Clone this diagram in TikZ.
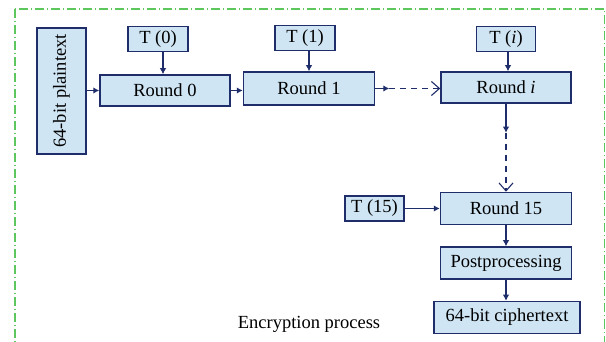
\documentclass[tikz,border=0pt]{standalone}
\usepackage{fontspec}
\setmainfont{Liberation Serif}
\usetikzlibrary{arrows.meta,positioning}
\definecolor{navy}{HTML}{1F2E6B}
\definecolor{boxfill}{HTML}{CFE5F4}
\definecolor{frameg}{HTML}{5DC65D}

\begin{document}
\begin{tikzpicture}[x=1pt,y=-1pt,font=\fontsize{18.5}{22}\selectfont,
  blk/.style={draw=navy,line width=1.5pt,fill=boxfill,inner sep=0pt,
    minimum width=130pt,minimum height=31pt},
  key/.style={blk,minimum width=60pt,minimum height=25pt},
  arr/.style={draw=navy,line width=1.1pt,-{Latex[length=6pt,width=6.5pt]}},
  darr/.style={draw=navy,line width=1.1pt,dash pattern=on 6pt off 5pt,
    -{Straight Barb[length=8pt,width=14pt]}}]
  \clip (0,0) rectangle (606,342);
  % outer frame, open at the bottom
  \draw[frameg,line width=1.1pt,dash pattern=on 9pt off 3pt on 1pt off 3pt]
    (15,9) rectangle (604.5,370);
  % rounds
  \node[blk,rotate=90,minimum width=126pt,minimum height=49pt] (plain) at (61.5,91) {64-bit plaintext};
  \node[blk] (r0) at (165,90.5) {Round 0};
  \node[blk,minimum width=131pt,minimum height=33pt,right=12pt of r0,yshift=2pt] (r1) {Round 1};
  \node[blk,right=65pt of r1,yshift=1pt] (ri) {Round \textit{i}};
  \node[blk,minimum width=131pt,minimum height=32pt,below=88pt of ri] (r15) {Round 15};
  \node[blk,minimum width=131pt,minimum height=32pt,below=21pt of r15] (post) {Postprocessing};
  \node[blk,minimum width=146pt,minimum height=32pt,below=21pt of post,xshift=1pt] (cipher) {64-bit ciphertext};
  % round keys
  \node[key,above=22pt of r0,xshift=-7pt] (t0) {T (0)};
  \node[key,above=20pt of r1,xshift=-4pt] (t1) {T (1)};
  \node[key,minimum width=59pt,above=19pt of ri] (ti) {T (\textit{i})};
  \node[key,minimum width=59pt,left=35pt of r15] (t15) {T (15)};
  \node (title) at (309,324) {Encryption process};
  % connectors
  \draw[arr] (plain.south |- r0.west) -- (r0.west);
  \draw[arr] (r0.east) -- (r0.east -| r1.west);
  \draw[arr] (t0.south -| r0.north) ++(-2,0) -- ++(0,22);
  \draw[arr] (t1.south -| r1.north) -- (r1.north);
  \draw[arr] (ti.south -| ri.north) ++(2,0) -- ++(0,19);
  \draw[arr] (r1.east) -- ++(14,0) coordinate (m1);
  \draw[darr] (m1) -- (m1 -| ri.west);
  \draw[arr] (ri.south) -- ++(0,29) coordinate (m2);
  \draw[darr] (m2) -- (r15.north);
  \draw[arr] (t15.east) -- (t15.east -| r15.west);
  \draw[arr] (r15.south) -- (r15.south |- post.north);
  \draw[arr] (post.south) -- (post.south |- cipher.north);
\end{tikzpicture}
\end{document}
